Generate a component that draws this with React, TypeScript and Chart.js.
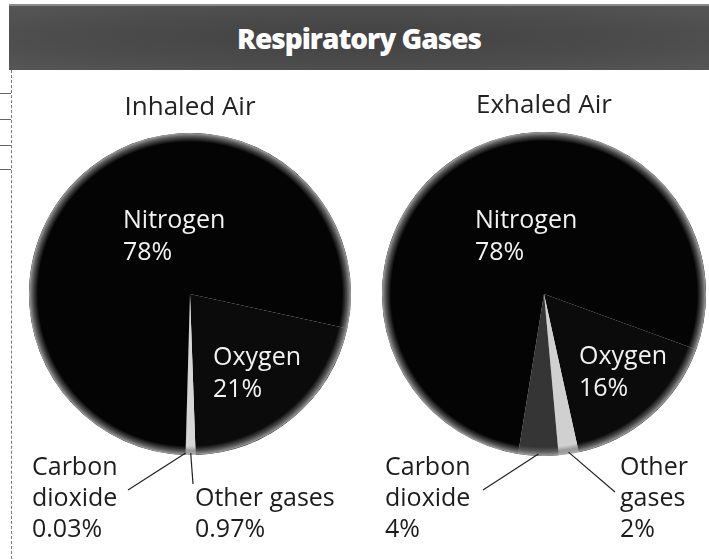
import React, { useEffect, useRef } from "react";
import { Chart, registerables } from "chart.js";

Chart.register(...registerables);

// ---------------- DATA ----------------
const mainTitle = "Respiratory Gases";
const chartTitles = ["Inhaled Air", "Exhaled Air"];
const gases = ["Oxygen", "Other gases", "Carbon dioxide", "Nitrogen"];
const inhaledValues = [21, 0.97, 0.03, 78];
const exhaledValues = [16, 2, 4, 78];
const inhaledNameLines = [["Oxygen"], ["Other gases"], ["Carbon", "dioxide"], ["Nitrogen"]];
const exhaledNameLines = [["Oxygen"], ["Other", "gases"], ["Carbon", "dioxide"], ["Nitrogen"]];

// ---------------- LAYOUT / STYLE ----------------
const W = 709;
const H = 559;
const FONT = "'Open Sans', 'Noto Sans', 'DejaVu Sans', sans-serif";

type LabelPos = { x: number; y: number; inside: boolean; leaderEnd?: [number, number] };
type PieLayout = {
  cx: number;
  cy: number;
  r: number;
  rotation: number;
  colors: string[];
  titleY: number;
  labels: LabelPos[];
};

const pieLayouts: PieLayout[] = [
  {
    cx: 190,
    cy: 294,
    r: 161,
    rotation: 102.4,
    colors: ["#0b0b0b", "#d6d6d6", "#8a8a8a", "#040404"],
    titleY: 115,
    labels: [
      { x: 213, y: 365, inside: true },
      { x: 195, y: 506, inside: false, leaderEnd: [193, 484] },
      { x: 32, y: 475, inside: false, leaderEnd: [128, 490] },
      { x: 123, y: 228, inside: true },
    ],
  },
  {
    cx: 544,
    cy: 294,
    r: 162,
    rotation: 110,
    colors: ["#0b0b0b", "#d0d0d0", "#353535", "#040404"],
    titleY: 113,
    labels: [
      { x: 579, y: 364, inside: true },
      { x: 620, y: 475, inside: false, leaderEnd: [615, 492] },
      { x: 385, y: 475, inside: false, leaderEnd: [483, 490] },
      { x: 475, y: 228, inside: true },
    ],
  },
];

const seriesValues = [inhaledValues, exhaledValues];
const seriesNameLines = [inhaledNameLines, exhaledNameLines];

const overlayPlugin = {
  id: "overlay",
  afterDatasetsDraw(chart: any, _args: any, opts: any) {
    const { layoutIdx } = opts;
    const L = pieLayouts[layoutIdx];
    const values = seriesValues[layoutIdx];
    const nameLines = seriesNameLines[layoutIdx];
    const ctx: CanvasRenderingContext2D = chart.ctx;
    const meta = chart.getDatasetMeta(0);
    const first = meta.data[0].getProps(["x", "y", "outerRadius"], true);
    const cx = first.x;
    const cy = first.y;
    const r = first.outerRadius;

    ctx.save();
    // halftone-like grey rim of the printed pie
    const rimW = 9;
    const g = ctx.createRadialGradient(cx, cy, r - rimW, cx, cy, r);
    g.addColorStop(0, "rgba(110,110,110,0)");
    g.addColorStop(0.5, "rgba(115,115,115,0.6)");
    g.addColorStop(1, "rgba(175,175,175,0.95)");
    ctx.beginPath();
    ctx.arc(cx, cy, r, 0, Math.PI * 2);
    ctx.arc(cx, cy, r - rimW, 0, Math.PI * 2, true);
    ctx.fillStyle = g;
    ctx.fill();

    // pie title
    ctx.font = `26px ${FONT}`;
    ctx.fillStyle = "#222";
    ctx.textAlign = "center";
    ctx.textBaseline = "alphabetic";
    ctx.fillText(chartTitles[layoutIdx], cx, L.titleY);

    // labels
    ctx.textAlign = "left";
    ctx.font = `25px ${FONT}`;
    values.forEach((v, i) => {
      const pos = L.labels[i];
      const lines = [...nameLines[i], `${v}%`];
      const lh = pos.inside ? 32 : 31;
      ctx.fillStyle = pos.inside ? "#f2f2f2" : "#1c1c1c";
      lines.forEach((t, k) => ctx.fillText(t, pos.x, pos.y + k * lh));
      if (pos.leaderEnd) {
        const a = meta.data[i].getProps(["startAngle", "endAngle"], true);
        const mid = (a.startAngle + a.endAngle) / 2;
        const sx = cx + Math.cos(mid) * (r - 2);
        const sy = cy + Math.sin(mid) * (r - 2);
        ctx.beginPath();
        ctx.moveTo(sx, sy);
        ctx.lineTo(pos.leaderEnd[0], pos.leaderEnd[1]);
        ctx.strokeStyle = "#222";
        ctx.lineWidth = 1.2;
        ctx.stroke();
      }
    });
    ctx.restore();
  },
};

function makeChart(canvas: HTMLCanvasElement, idx: number) {
  const L = pieLayouts[idx];
  return new Chart(canvas, {
    type: "pie",
    data: {
      labels: gases,
      datasets: [
        {
          data: seriesValues[idx],
          backgroundColor: L.colors,
          borderWidth: 0,
          hoverOffset: 0,
        },
      ],
    },
    options: {
      responsive: false,
      animation: false,
      devicePixelRatio: 1,
      events: [],
      rotation: L.rotation,
      layout: {
        padding: {
          left: L.cx - L.r,
          right: W - (L.cx + L.r),
          top: L.cy - L.r,
          bottom: H - (L.cy + L.r),
        },
      },
      plugins: {
        legend: { display: false },
        tooltip: { enabled: false },
        title: { display: false },
        overlay: { layoutIdx: idx },
      } as any,
    },
    plugins: [overlayPlugin],
  } as any);
}

const tickYs = [93, 119, 145, 169];

export default function App() {
  const ref1 = useRef<HTMLCanvasElement>(null);
  const ref2 = useRef<HTMLCanvasElement>(null);

  useEffect(() => {
    const charts = [ref1, ref2].map((ref, i) => makeChart(ref.current as HTMLCanvasElement, i));
    return () => charts.forEach((c) => c.destroy());
  }, []);

  return (
    <div
      style={{
        position: "fixed",
        left: 0,
        top: 0,
        width: W,
        height: H,
        background: "#fff",
        overflow: "hidden",
      }}
    >
      <div
        style={{
          position: "absolute",
          left: 9,
          top: 4,
          width: W - 9,
          height: 66,
          background: "radial-gradient(ellipse at 50% 50%, #424242 0%, #4c4c4c 60%, #565656 100%)",
          borderTop: "2px solid #8a8a8a",
          boxSizing: "border-box",
          display: "flex",
          alignItems: "center",
          justifyContent: "center",
          color: "#fff",
          font: `800 28px ${FONT}`,
          letterSpacing: "-1px",
        }}
      >
        {mainTitle}
      </div>
      <div
        style={{
          position: "absolute",
          left: 11,
          top: 70,
          height: H - 70,
          borderLeft: "1px dashed #777",
        }}
      />
      {tickYs.map((y) => (
        <div
          key={y}
          style={{ position: "absolute", left: 0, top: y, width: 11, borderTop: "1px solid #666" }}
        />
      ))}
      <canvas ref={ref1} width={W} height={H} style={{ position: "absolute", left: 0, top: 0 }} />
      <canvas ref={ref2} width={W} height={H} style={{ position: "absolute", left: 0, top: 0 }} />
    </div>
  );
}
